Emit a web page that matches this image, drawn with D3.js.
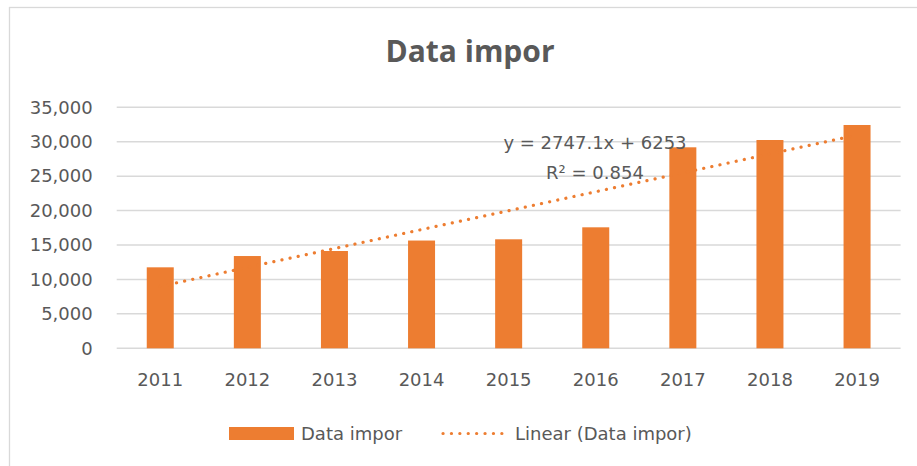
<!DOCTYPE html>
<html>
<head>
<meta charset="utf-8">
<script src="https://cdn.jsdelivr.net/npm/d3@7"></script>
<style>
	body { margin: 0; background: #fff; }
	svg { display: block; }
	.tick text { font-family: "DejaVu Sans", sans-serif; font-size: 18px; fill: #595959; }
</style>
</head>
<body>
<svg width="917" height="466"></svg>
<script>
var years = ["2011", "2012", "2013", "2014", "2015", "2016", "2017", "2018", "2019"];
var importValues = [11760, 13400, 14130, 15650, 15830, 17570, 29190, 30250, 32430];
var yTicks = [0, 5000, 10000, 15000, 20000, 25000, 30000, 35000];
var trendSlope = 2747.1;
var trendIntercept = 6253;
var trendLabel = ["y = 2747.1x + 6253", "R\u00b2 = 0.854"];
var seriesName = "Data impor";
var trendName = "Linear (Data impor)";

var orange = "#ED7D31", textColor = "#595959", gridColor = "#D9D9D9";

var svg = d3.select("svg");

// chart border (runs off the right/bottom edge like the screenshot)
svg.append("rect")
	.attr("x", 9.5).attr("y", 7.5)
	.attr("width", 940).attr("height", 480)
	.attr("fill", "#fff")
	.attr("stroke", gridColor)
	.attr("stroke-width", 1.3);

var margin = {left: 116.7, right: 16.4, top: 107.3, bottom: 117.7};
var width = 917 - margin.left - margin.right,
	height = 466 - margin.top - margin.bottom;

var g = svg.append("g").attr("transform", "translate(" + margin.left + "," + margin.top + ")");

var x = d3.scaleBand().domain(years).range([0, width]).padding(0);
var y = d3.scaleLinear().domain([0, 35000]).range([height, 0]);

// title
svg.append("text")
	.attr("x", 470).attr("y", 62)
	.attr("text-anchor", "middle")
	.style("font-family", "'Open Sans', sans-serif")
	.style("font-weight", "bold")
	.style("font-size", "30px")
	.attr("fill", textColor)
	.text(seriesName);

// gridlines
g.append("g")
	.selectAll("line")
	.data(yTicks)
	.enter().append("line")
	.attr("x1", 0).attr("x2", width)
	.attr("y1", function(d) { return y(d); })
	.attr("y2", function(d) { return y(d); })
	.attr("stroke", gridColor)
	.attr("stroke-width", 1.5);

// y axis labels
var yAxis = g.append("g")
	.call(d3.axisLeft(y).tickValues(yTicks).tickSize(0).tickPadding(24).tickFormat(d3.format(",")));
yAxis.select(".domain").remove();

// x axis labels
var xAxis = g.append("g")
	.attr("transform", "translate(0," + height + ")")
	.call(d3.axisBottom(x).tickSize(0).tickPadding(25));
xAxis.select(".domain").remove();

// bars
var barW = x.step() * 0.31;
g.selectAll(".bar")
	.data(importValues)
	.enter().append("rect")
	.attr("class", "bar")
	.attr("x", function(d, i) { return x(years[i]) + x.bandwidth() / 2 - barW / 2; })
	.attr("y", function(d) { return y(d); })
	.attr("width", barW)
	.attr("height", function(d) { return height - y(d); })
	.attr("fill", orange);

// linear trendline
var line = d3.line()
	.x(function(d) { return x(years[d - 1]) + x.bandwidth() / 2; })
	.y(function(d) { return y(trendSlope * d + trendIntercept); });

g.append("path")
	.datum([1, years.length])
	.attr("d", line)
	.attr("fill", "none")
	.attr("stroke", orange)
	.attr("stroke-width", 3.2)
	.attr("stroke-linecap", "round")
	.attr("stroke-dasharray", "0.1 8.2");

// trendline equation
svg.selectAll(".trendLabel")
	.data(trendLabel)
	.enter().append("text")
	.attr("class", "trendLabel")
	.attr("x", 595)
	.attr("y", function(d, i) { return 149 + i * 30; })
	.attr("text-anchor", "middle")
	.style("font-family", "'DejaVu Sans', sans-serif")
	.style("font-size", "18px")
	.attr("fill", textColor)
	.text(function(d) { return d; });

// legend
var legend = svg.append("g");
legend.append("rect")
	.attr("x", 229).attr("y", 427)
	.attr("width", 65).attr("height", 13)
	.attr("fill", orange);
legend.append("text")
	.attr("x", 301).attr("y", 440)
	.style("font-family", "'DejaVu Sans', sans-serif")
	.style("font-size", "18px")
	.attr("fill", textColor)
	.text(seriesName);
legend.append("line")
	.attr("x1", 443).attr("x2", 502)
	.attr("y1", 433.5).attr("y2", 433.5)
	.attr("stroke", orange)
	.attr("stroke-width", 3.2)
	.attr("stroke-linecap", "round")
	.attr("stroke-dasharray", "0.1 8.3");
legend.append("text")
	.attr("x", 515).attr("y", 440)
	.style("font-family", "'DejaVu Sans', sans-serif")
	.style("font-size", "18px")
	.attr("fill", textColor)
	.text(trendName);
</script>
</body>
</html>
